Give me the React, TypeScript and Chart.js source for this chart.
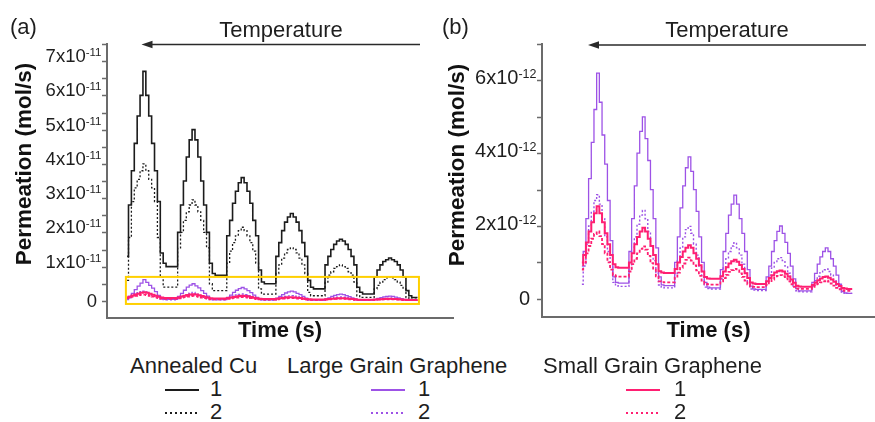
import { useEffect, useRef } from "react";
import { Chart, registerables } from "chart.js";

Chart.register(...registerables);

// ---------- DATA (values in units of 1e-12 mol/s) ----------
const TIME = [
  -0.5, 0, 1, 2, 3, 4, 5, 6, 7, 8, 9, 10, 11, 12, 13, 14, 15, 16,
  17, 18, 19, 20, 21, 22, 23, 24, 25, 26, 27, 28, 29, 30, 31, 32, 33,
  34, 35, 36, 37, 38, 39, 40, 41, 42, 43, 44, 45, 46, 47, 48, 49, 50,
  51, 52, 53, 54, 55, 56, 57, 58, 59, 60, 61, 62, 63, 64, 65, 66, 67,
  68, 69, 70, 71, 72, 73, 74, 75, 76, 77, 78, 79, 80, 81, 82, 83, 84,
  85, 86, 87, 88, 89, 90, 91, 92, 93, 94, 95, 96, 97, 98, 99, 100,
];

const annealedCu1 = [
  13,
  28, 38, 46, 54, 60, 67, 60, 54, 46, 38, 29, 14, 11, 10, 10, 10, 10,
  20, 28, 35, 42, 47, 50, 47, 42, 35, 28, 20, 11, 8, 7.5, 7.5, 7.5, 7.5,
  19, 23.5, 28.5, 32, 34.5, 36, 34.5, 32, 28.5, 23.5, 19, 9, 5.5, 5, 5, 5, 5,
  13, 17, 20.5, 23, 24.5, 25.5, 24.5, 23, 20.5, 17, 13, 6, 4, 3.5, 3.5, 3.5, 3.5,
  10.5, 13, 15, 16.5, 17.5, 18, 17.5, 16.5, 15, 13, 10.5, 4, 2.5, 2, 2, 2, 2,
  7, 9, 10.5, 11.5, 12, 12.5, 12, 11.5, 10.5, 9, 7, 3, 1.5, 1, 1, 1,
];

const annealedCu2 = [
  6,
  18.5, 29, 33, 35.5, 38, 40, 38, 35.5, 33, 29, 18.5, 7, 4, 4, 4, 4, 4,
  15.5, 20, 23.5, 26, 28, 29.5, 28, 26, 23.5, 20, 15.5, 5, 3, 3, 3, 3, 3,
  11, 14.5, 17, 19, 20.5, 21.5, 20.5, 19, 17, 14.5, 11, 3.5, 2, 2, 2, 2, 2,
  8, 10.5, 12.5, 14, 15, 15.5, 15, 14, 12.5, 10.5, 8, 2.5, 1.5, 1.5, 1.5, 1.5, 1.5,
  5.5, 7.5, 8.5, 9.5, 10, 10.5, 10, 9.5, 8.5, 7.5, 5.5, 1.5, 1, 1, 1, 1, 1,
  3.5, 4.5, 5.5, 6.2, 6.7, 7, 6.7, 6.2, 5.5, 4.5, 3.5, 1, 0.5, 0.5, 0.5, 0.5,
];

const largeGrain1 = [
  0.9,
  1.3, 2.2, 3.3, 4.3, 5.2, 6.2, 5.4, 4.5, 3.7, 2.7, 1.6, 0.6, 0.45, 0.43, 0.43, 0.43, 0.43,
  1.3, 2.2, 3.1, 4.0, 4.6, 5.0, 4.4, 3.8, 3.0, 2.2, 1.4, 0.6, 0.38, 0.36, 0.36, 0.36, 0.36,
  1.0, 1.7, 2.5, 3.1, 3.6, 3.9, 3.5, 3.0, 2.4, 1.7, 1.0, 0.45, 0.32, 0.3, 0.3, 0.3, 0.3,
  0.8, 1.3, 1.8, 2.3, 2.6, 2.85, 2.6, 2.2, 1.8, 1.3, 0.8, 0.35, 0.27, 0.26, 0.26, 0.26, 0.26,
  0.6, 0.9, 1.3, 1.6, 1.85, 2.0, 1.8, 1.55, 1.25, 0.9, 0.55, 0.28, 0.22, 0.22, 0.22, 0.22, 0.22,
  0.45, 0.7, 0.95, 1.15, 1.3, 1.4, 1.3, 1.1, 0.9, 0.65, 0.4, 0.2, 0.16, 0.15, 0.15, 0.15,
];

const largeGrain2 = [
  0.4,
  0.9, 1.5, 2.0, 2.4, 2.7, 2.86, 2.6, 2.2, 1.7, 1.3, 0.9, 0.45, 0.36, 0.34, 0.34, 0.34, 0.34,
  0.8, 1.3, 1.7, 2.05, 2.3, 2.43, 2.2, 1.85, 1.45, 1.05, 0.7, 0.38, 0.32, 0.3, 0.3, 0.3, 0.3,
  0.7, 1.05, 1.4, 1.7, 1.9, 1.99, 1.8, 1.5, 1.2, 0.9, 0.6, 0.32, 0.28, 0.27, 0.27, 0.27, 0.27,
  0.55, 0.85, 1.1, 1.3, 1.45, 1.54, 1.4, 1.2, 0.95, 0.7, 0.45, 0.27, 0.24, 0.23, 0.23, 0.23, 0.23,
  0.45, 0.65, 0.85, 1.0, 1.1, 1.13, 1.05, 0.9, 0.7, 0.5, 0.35, 0.22, 0.2, 0.19, 0.19, 0.19, 0.19,
  0.35, 0.5, 0.62, 0.72, 0.8, 0.82, 0.75, 0.65, 0.5, 0.38, 0.27, 0.18, 0.16, 0.15, 0.15, 0.15,
];

const smallGrain1 = [
  1.0,
  1.2, 1.55, 1.85, 2.1, 2.35, 2.54, 2.35, 2.1, 1.8, 1.5, 1.2, 0.95, 0.87, 0.85, 0.85, 0.85, 0.85,
  1.0, 1.25, 1.5, 1.7, 1.85, 1.95, 1.85, 1.65, 1.45, 1.2, 0.95, 0.76, 0.72, 0.71, 0.71, 0.71, 0.71,
  0.82, 1.0, 1.15, 1.3, 1.4, 1.47, 1.4, 1.25, 1.1, 0.92, 0.75, 0.6, 0.56, 0.55, 0.55, 0.55, 0.55,
  0.62, 0.75, 0.87, 0.97, 1.03, 1.07, 1.02, 0.93, 0.82, 0.7, 0.57, 0.45, 0.42, 0.41, 0.41, 0.41, 0.41,
  0.48, 0.57, 0.65, 0.72, 0.76, 0.78, 0.75, 0.69, 0.61, 0.53, 0.44, 0.36, 0.34, 0.33, 0.33, 0.33, 0.33,
  0.38, 0.45, 0.51, 0.56, 0.6, 0.61, 0.58, 0.53, 0.47, 0.41, 0.35, 0.3, 0.28, 0.27, 0.27, 0.27,
];

const smallGrain2 = [
  0.8,
  1.0, 1.25, 1.45, 1.65, 1.78, 1.85, 1.72, 1.5, 1.25, 1.0, 0.8, 0.65, 0.62, 0.61, 0.61, 0.61, 0.61,
  0.75, 0.95, 1.1, 1.25, 1.37, 1.44, 1.35, 1.18, 0.98, 0.8, 0.62, 0.48, 0.46, 0.45, 0.45, 0.45, 0.45,
  0.58, 0.72, 0.85, 0.97, 1.07, 1.13, 1.05, 0.92, 0.78, 0.63, 0.5, 0.41, 0.4, 0.39, 0.39, 0.39, 0.39,
  0.48, 0.57, 0.66, 0.74, 0.79, 0.82, 0.78, 0.7, 0.6, 0.5, 0.4, 0.34, 0.33, 0.32, 0.32, 0.32, 0.32,
  0.38, 0.46, 0.53, 0.59, 0.63, 0.65, 0.62, 0.56, 0.48, 0.4, 0.33, 0.28, 0.27, 0.27, 0.27, 0.27, 0.27,
  0.3, 0.36, 0.41, 0.45, 0.48, 0.5, 0.47, 0.42, 0.36, 0.3, 0.26, 0.23, 0.22, 0.22, 0.22, 0.22,
];

// tick values / labels
const TICKS_A = [0, 5, 10, 15, 20, 25, 30, 35, 40, 45, 50, 55, 60, 65, 70, 75];
const LABEL_VALUES_A = [0, 10, 20, 30, 40, 50, 60, 70];
const LABELS_A = ["0", "1x10", "2x10", "3x10", "4x10", "5x10", "6x10", "7x10"];
const SUP_A = "-11";
const TICKS_B = [0, 1, 2, 3, 4, 5, 6, 7];
const LABEL_VALUES_B = [0, 2, 4, 6];
const LABELS_B = ["0", "2x10", "4x10", "6x10"];
const SUP_B = "-12";

const SERIES_NAMES = ["Annealed Cu", "Large Grain Graphene", "Small Grain Graphene"];
const RUN_LABELS = ["1", "2"];
const Y_TITLE = "Permeation (mol/s)";
const X_TITLE = "Time (s)";
const ARROW_TEXT = "Temperature";

// ---------- STYLE ----------
const FONT = "'Liberation Sans', Arial, Helvetica, sans-serif";
const AXIS = "#6b6b6b";
const TEXT = "#1e1e1e";
const BLACK = "#1c1c1c";
const PURPLE = "#9d52e6";
const PINK = "#ff1f72";
const YELLOW = "#ffd000";

function toXY(arr: number[]) {
  return TIME.map((t, i) => ({ x: t, y: arr[i] }));
}

function makeDatasets(withCu: boolean) {
  const list: any[] = [
    { data: toXY(smallGrain1), borderColor: PINK, borderWidth: 2, borderDash: [] as number[] },
    { data: toXY(smallGrain2), borderColor: PINK, borderWidth: 1.8, borderDash: [3, 2] },
    { data: toXY(largeGrain1), borderColor: PURPLE, borderWidth: 1.3, borderDash: [] as number[] },
    { data: toXY(largeGrain2), borderColor: PURPLE, borderWidth: 1.4, borderDash: [2, 2] },
  ];
  if (withCu) {
    list.push(
      { data: toXY(annealedCu1), borderColor: BLACK, borderWidth: 1.6, borderDash: [] as number[] },
      { data: toXY(annealedCu2), borderColor: BLACK, borderWidth: 1.3, borderDash: [2, 2] }
    );
  }
  return list.map((d) => ({
    ...d,
    stepped: true,
    pointRadius: 0,
    fill: false,
    tension: 0,
  }));
}

type PanelCfg = {
  letter: string;
  withCu: boolean;
  tickValues: number[];
  labelValues: number[];
  labels: string[];
  sup: string;
  baseFont: number;
  supFont: number;
  baseDy: number;
  supDy: number;
  zeroDy: number;
  zeroGap: number;
  labelGap: number;
  yTitleX: number;
  yTitleY: number;
  arrowTip: number;
  arrowEnd: number;
  arrowY: number;
  tempX: number;
  letterX: number;
  box?: { x0: number; x1: number; y0: number; y1: number };
};

function makePlugin(cfg: PanelCfg) {
  return {
    id: "decor" + cfg.letter,
    afterDatasetsDraw(chart: any) {
      if (!cfg.box) return;
      const { ctx } = chart;
      const xs = chart.scales.x;
      const ys = chart.scales.y;
      const b = cfg.box;
      const x0 = xs.getPixelForValue(b.x0);
      const x1 = xs.getPixelForValue(b.x1);
      const y0 = ys.getPixelForValue(b.y0);
      const y1 = ys.getPixelForValue(b.y1);
      ctx.save();
      ctx.strokeStyle = YELLOW;
      ctx.lineWidth = 2;
      ctx.strokeRect(x0, y1, x1 - x0, y0 - y1);
      ctx.restore();
    },
    afterDraw(chart: any) {
      const { ctx, chartArea } = chart;
      const ys = chart.scales.y;
      const left = chartArea.left;
      ctx.save();
      // y ticks
      ctx.strokeStyle = AXIS;
      ctx.lineWidth = 1.5;
      for (const v of cfg.tickValues) {
        const y = Math.round(ys.getPixelForValue(v)) + 0.5;
        ctx.beginPath();
        ctx.moveTo(left - 5, y);
        ctx.lineTo(left, y);
        ctx.stroke();
      }
      // tick labels with superscripts
      ctx.fillStyle = TEXT;
      ctx.textAlign = "right";
      ctx.textBaseline = "alphabetic";
      cfg.labelValues.forEach((v, i) => {
        const y = ys.getPixelForValue(v);
        const base = cfg.labels[i];
        const right = left - cfg.labelGap;
        if (v === 0) {
          ctx.font = `${cfg.baseFont}px ${FONT}`;
          ctx.fillText(base, left - cfg.zeroGap, y + cfg.zeroDy);
          return;
        }
        ctx.font = `${cfg.supFont}px ${FONT}`;
        const sw = ctx.measureText(cfg.sup).width;
        ctx.fillText(cfg.sup, right, y + cfg.supDy);
        ctx.font = `${cfg.baseFont}px ${FONT}`;
        ctx.fillText(base, right - sw, y + cfg.baseDy);
      });
      // y title
      ctx.save();
      ctx.translate(cfg.yTitleX, cfg.yTitleY);
      ctx.rotate(-Math.PI / 2);
      ctx.textAlign = "center";
      ctx.font = `bold 22.5px ${FONT}`;
      ctx.fillStyle = "#111";
      ctx.fillText(Y_TITLE, 0, 0);
      ctx.restore();
      // x title
      ctx.textAlign = "center";
      ctx.font = `bold 22px ${FONT}`;
      ctx.fillStyle = "#111";
      ctx.fillText(X_TITLE, (chartArea.left + chartArea.right) / 2, 337);
      // panel letter
      ctx.textAlign = "left";
      ctx.font = `22px ${FONT}`;
      ctx.fillStyle = TEXT;
      ctx.fillText(`(${cfg.letter})`, cfg.letterX, 33.5);
      // temperature arrow
      ctx.textAlign = "center";
      ctx.fillText(ARROW_TEXT, cfg.tempX, 37);
      ctx.strokeStyle = "#2a2a2a";
      ctx.lineWidth = 1.5;
      ctx.beginPath();
      ctx.moveTo(cfg.arrowTip + 8, cfg.arrowY);
      ctx.lineTo(cfg.arrowEnd, cfg.arrowY);
      ctx.stroke();
      ctx.fillStyle = "#2a2a2a";
      ctx.beginPath();
      ctx.moveTo(cfg.arrowTip, cfg.arrowY);
      ctx.lineTo(cfg.arrowTip + 11, cfg.arrowY - 3.8);
      ctx.lineTo(cfg.arrowTip + 11, cfg.arrowY + 3.8);
      ctx.closePath();
      ctx.fill();
      ctx.restore();
    },
  };
}

const CANVAS_H = 348;

function Panel(props: {
  left: number;
  width: number;
  xMin: number;
  xMax: number;
  yMin: number;
  yMax: number;
  yWidth: number;
  bottom: number;
  padRight: number;
  cfg: PanelCfg;
}) {
  const ref = useRef<HTMLCanvasElement | null>(null);
  useEffect(() => {
    if (!ref.current) return;
    const p = props;
    const chart = new Chart(ref.current, {
      type: "line",
      data: { datasets: makeDatasets(p.cfg.withCu) as any },
      options: {
        responsive: false,
        animation: false,
        devicePixelRatio: 1,
        events: [],
        layout: { padding: { left: 0, top: 44, right: p.padRight, bottom: 0 } },
        plugins: { legend: { display: false }, tooltip: { enabled: false } },
        scales: {
          x: {
            type: "linear",
            min: p.xMin,
            max: p.xMax,
            ticks: { display: false },
            grid: { display: false, drawTicks: false },
            border: { display: true, color: AXIS, width: 2 },
            afterFit: (s: any) => {
              s.height = CANVAS_H - p.bottom;
            },
          },
          y: {
            type: "linear",
            min: p.yMin,
            max: p.yMax,
            ticks: { display: false },
            grid: { display: false, drawTicks: false },
            border: { display: true, color: AXIS, width: 2 },
            afterFit: (s: any) => {
              s.width = p.yWidth;
            },
          },
        },
      },
      plugins: [makePlugin(p.cfg)],
    });
    return () => chart.destroy();
  }, []);
  return (
    <canvas
      ref={ref}
      width={props.width}
      height={CANVAS_H}
      style={{ position: "absolute", left: props.left, top: 0, width: props.width, height: CANVAS_H }}
    />
  );
}

function LegendLine({ x, y, color, dashed }: { x: number; y: number; color: string; dashed: boolean }) {
  return (
    <svg style={{ position: "absolute", left: x, top: y - 3 }} width={34} height={6}>
      <line
        x1={0}
        y1={3}
        x2={34}
        y2={3}
        stroke={color}
        strokeWidth={2}
        strokeDasharray={dashed ? "2 3" : undefined}
      />
    </svg>
  );
}

function Txt({ x, baseline, children }: { x: number; baseline: number; children: any }) {
  return (
    <div
      style={{
        position: "absolute",
        left: x,
        top: baseline - 18.6,
        fontFamily: FONT,
        fontSize: 22,
        lineHeight: "22px",
        color: TEXT,
        whiteSpace: "nowrap",
      }}
    >
      {children}
    </div>
  );
}

export default function App() {
  useEffect(() => {
    document.body.style.margin = "0";
  }, []);

  const cfgA: PanelCfg = {
    letter: "a",
    withCu: true,
    tickValues: TICKS_A,
    labelValues: LABEL_VALUES_A,
    labels: LABELS_A,
    sup: SUP_A,
    baseFont: 18.5,
    supFont: 11.5,
    baseDy: 1,
    supDy: -5,
    zeroDy: 6,
    zeroGap: 10,
    labelGap: 5.5,
    yTitleX: 31,
    yTitleY: 164,
    arrowTip: 141.5,
    arrowEnd: 420,
    arrowY: 44.5,
    tempX: 281,
    letterX: 10,
    box: { x0: -0.9, x1: 100.5, y0: -0.9, y1: 7 },
  };
  const cfgB: PanelCfg = {
    letter: "b",
    withCu: false,
    tickValues: TICKS_B,
    labelValues: LABEL_VALUES_B,
    labels: LABELS_B,
    sup: SUP_B,
    baseFont: 20,
    supFont: 12.5,
    baseDy: 4,
    supDy: -2,
    zeroDy: 6,
    zeroGap: 12,
    labelGap: 5.5,
    yTitleX: 24,
    yTitleY: 165,
    arrowTip: 148,
    arrowEnd: 426,
    arrowY: 45,
    tempX: 287,
    letterX: 2,
  };

  const legendX = [
    { text: 130, line: 165, num: 210, color: BLACK },
    { text: 287, line: 371, num: 418, color: PURPLE },
    { text: 543, line: 626, num: 674, color: PINK },
  ];

  return (
    <div
      style={{
        position: "absolute",
        left: 0,
        top: 0,
        width: 875,
        height: 422,
        background: "#fff",
        overflow: "hidden",
      }}
    >
      <Panel left={0} width={460} xMin={-7.44} xMax={112.28} yMin={-5} yMax={75} yWidth={107} bottom={318} padRight={7} cfg={cfgA} />
      <Panel left={440} width={435} xMin={-15.32} xMax={108.47} yMin={-0.5} yMax={7} yWidth={102} bottom={317} padRight={0} cfg={cfgB} />
      {legendX.map((g, i) => (
        <div key={i}>
          <Txt x={g.text} baseline={374}>{SERIES_NAMES[i]}</Txt>
          <LegendLine x={g.line} y={389.5} color={g.color} dashed={false} />
          <Txt x={g.num} baseline={397}>{RUN_LABELS[0]}</Txt>
          <LegendLine x={g.line} y={413} color={g.color} dashed={true} />
          <Txt x={g.num} baseline={420}>{RUN_LABELS[1]}</Txt>
        </div>
      ))}
    </div>
  );
}
